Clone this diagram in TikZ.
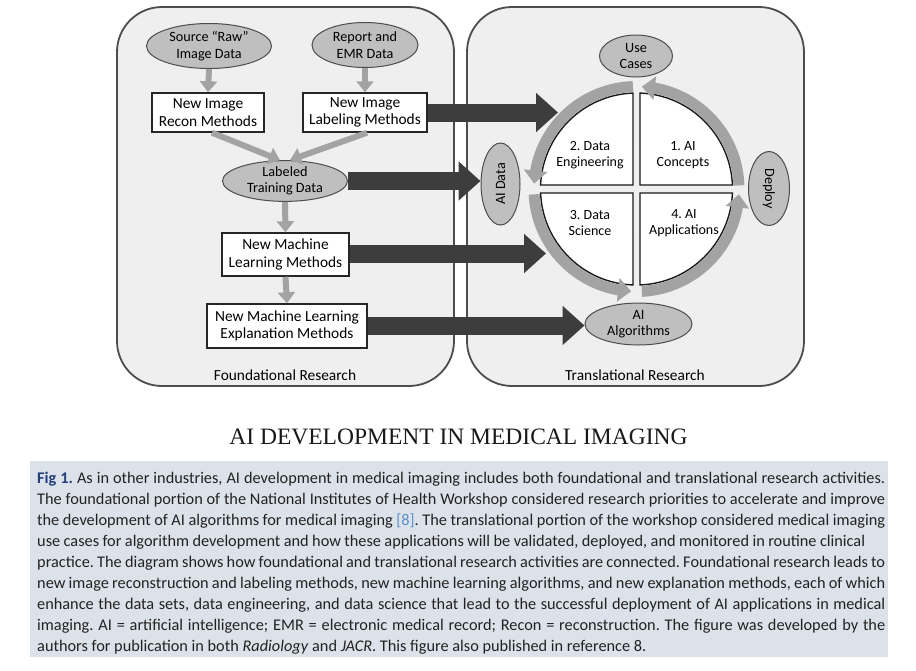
\documentclass[tikz,border=0pt]{standalone}
\usepackage{fontspec}
\setmainfont{Carlito}
\newfontfamily\titlefont{Liberation Serif}
\usetikzlibrary{arrows.meta,bending,calc,shapes.geometric}
\definecolor{panelfill}{HTML}{EFEFEF}
\definecolor{paneldraw}{HTML}{4D4D4D}
\definecolor{ellfill}{HTML}{BFBFBF}
\definecolor{ringgray}{HTML}{A3A3A3}
\definecolor{darkarrow}{HTML}{3D3D3D}
\definecolor{capfill}{HTML}{DCE2EA}
\definecolor{figblue}{HTML}{23407A}
\definecolor{refblue}{HTML}{5B8FCB}
\definecolor{captext}{HTML}{222222}
\frenchspacing
\begin{document}
\begin{tikzpicture}[x=1pt,y=1pt,
  panel/.style={draw=paneldraw,fill=panelfill,line width=1.8pt,rounded corners=45pt},
  ell/.style={ellipse,draw=paneldraw,fill=ellfill,line width=1pt,inner sep=0pt,align=center,font=\fontsize{14.2}{16.5}\selectfont},
  box/.style={draw=black!85,fill=white,line width=1.5pt,inner sep=0pt,align=center,font=\fontsize{15.4}{17.5}\selectfont},
  quad/.style={draw=black!90,fill=white,line width=1.4pt},
  qtext/.style={align=center,font=\fontsize{14}{16.5}\selectfont},
  grayarrow/.style={draw=ringgray,line width=6pt,-{Triangle[width=17pt,length=11pt]}},
  ring/.style={draw=ringgray,line width=11pt,-{Triangle[width=23pt,length=13pt,flex]}},
  bigarrow/.style={draw=darkarrow,line width=18pt,-{Triangle[width=38pt,length=22pt]}},
  paneltitle/.style={font=\fontsize{15.4}{18}\selectfont},
  capline/.style={anchor=base west,inner sep=0pt,text=captext,font=\fontsize{16.3}{21}\selectfont}
]
\useasboundingbox (0,0) rectangle (916,-670);
\fill[white] (0,0) rectangle (916,-670);

% panels
\draw[panel] (117,-7) rectangle (454,-386);
\draw[panel] (467,-7) rectangle (804,-386);
\node[paneltitle] (fnd) at (285,-375) {Foundational Research};
\node[paneltitle] (trn) at (635,-375) {Translational Research};

% left nodes
\node[ell,minimum width=125pt,minimum height=45pt] (src) at (209,-46) {Source “Raw”\\Image Data};
\node[ell,minimum width=106pt,minimum height=45pt] (rep) at (365,-45) {Report and\\EMR Data};
\node[box,minimum width=112pt,minimum height=39pt] (rec) at (208,-112.5) {New Image\\Recon Methods};
\node[box,minimum width=124pt,minimum height=39pt] (lab) at (365,-112.5) {New Image\\Labeling Methods};
\node[ell,minimum width=125pt,minimum height=40pt] (ltd) at (285,-181) {Labeled\\Training Data};
\node[box,minimum width=127pt,minimum height=43pt] (mlm) at (285.5,-254.5) {New Machine\\Learning Methods};
\node[box,minimum width=160pt,minimum height=44pt] (mle) at (287,-326) {New Machine Learning\\Explanation Methods};

\draw[grayarrow] (src.south) -- (rec.north);
\draw[grayarrow] (rep.south) -- (lab.north);
\draw[grayarrow] ([xshift=4pt]rec.south) -- ([xshift=-5pt]ltd.north);
\draw[grayarrow] ([xshift=2pt]lab.south) -- ([xshift=5pt]ltd.north);
\draw[grayarrow] (ltd.south) -- (mlm.north);
\draw[grayarrow] (mlm.south) -- (mle.north);

% right: quadrants
\coordinate (C) at (636.5,-189);
\draw[quad] (640,-185) -- ($(C)+(87.9:96)$) arc[start angle=87.9,end angle=2.4,radius=96] -- cycle;
\draw[quad] (633,-185) -- ($(C)+(92.1:96)$) arc[start angle=92.1,end angle=177.6,radius=96] -- cycle;
\draw[quad] (633,-193) -- ($(C)+(182.4:96)$) arc[start angle=182.4,end angle=267.9,radius=96] -- cycle;
\draw[quad] (640,-193) -- ($(C)+(272.1:96)$) arc[start angle=272.1,end angle=357.6,radius=96] -- cycle;
\node[qtext] (q2) at (590,-155) {2. Data\\Engineering};
\node[qtext] (q1) at (683,-155) {1. AI\\Concepts};
\node[qtext] (q3) at (590,-223) {3. Data\\Science};
\node[qtext] (q4) at (684,-223) {4. AI\\Applications};

% ring arrows
\draw[ring] ($(C)+(2:102.5)$) arc[start angle=2,end angle=87,radius=102.5];
\draw[ring] ($(C)+(92:102.5)$) arc[start angle=92,end angle=177,radius=102.5];
\draw[ring] ($(C)+(183:102.5)$) arc[start angle=183,end angle=267,radius=102.5];
\draw[ring] ($(C)+(273:102.5)$) arc[start angle=273,end angle=357,radius=102.5];

% right ellipses
\node[ell,minimum width=73pt,minimum height=42pt] (usec) at (636,-56) {Use\\Cases};
\node[ell,minimum width=82pt,minimum height=39pt,rotate=90] (aidata) at (500.5,-184) {AI Data};
\node[ell,minimum width=74pt,minimum height=41pt,rotate=-90] (deploy) at (769,-188.5) {Deploy};
\node[ell,minimum width=107pt,minimum height=42pt] (alg) at (638.5,-324) {AI\\Algorithms};

% big dark arrows
\coordinate (t1) at (558,-112.5);
\coordinate (t3) at (546,-253.5);
\draw[bigarrow] (lab.east) -- (t1);
\draw[bigarrow] (ltd.east) -- (ltd.east -| aidata.north);
\draw[bigarrow] ([yshift=1pt]mlm.east) -- (t3);
\draw[bigarrow] ([yshift=0.5pt]mle.east) -- ([yshift=0.5pt]mle.east -| alg.west);

% title
\node[font=\titlefont\fontsize{23.5}{25}\selectfont,text=black!90] (title) at (458.5,-437) {AI DEVELOPMENT IN MEDICAL IMAGING};

% caption
\fill[capfill] (30,-461) rectangle (888,-657);
\node[capline] (c1) at (37,-483) {\makebox[848pt][s]{\textcolor{figblue}{\textbf{Fig 1.}} As in other industries, AI development in medical imaging includes both foundational and translational research activities.}};
\node[capline] (c2) at (37,-504) {\makebox[848pt][s]{The foundational portion of the National Institutes of Health Workshop considered research priorities to accelerate and improve}};
\node[capline] (c3) at (37,-525) {\makebox[848pt][s]{the development of AI algorithms for medical imaging \textcolor{refblue}{[8]}. The translational portion of the workshop considered medical imaging}};
\node[capline] (c4) at (37,-546) {\makebox[828pt][s]{use cases for algorithm development and how these applications will be validated, deployed, and monitored in routine clinical}};
\node[capline] (c5) at (37,-567) {\makebox[848pt][s]{practice. The diagram shows how foundational and translational research activities are connected. Foundational research leads to}};
\node[capline] (c6) at (37,-588) {\makebox[848pt][s]{new image reconstruction and labeling methods, new machine learning algorithms, and new explanation methods, each of which}};
\node[capline] (c7) at (37,-609) {\makebox[848pt][s]{enhance the data sets, data engineering, and data science that lead to the successful deployment of AI applications in medical}};
\node[capline] (c8) at (37,-630) {\makebox[848pt][s]{imaging. AI = artificial intelligence; EMR = electronic medical record; Recon = reconstruction. The figure was developed by the}};
\node[capline] (c9) at (37,-651) {authors for publication in both \textit{Radiology} and \textit{JACR}. This figure also published in reference 8.};
\end{tikzpicture}
\end{document}
